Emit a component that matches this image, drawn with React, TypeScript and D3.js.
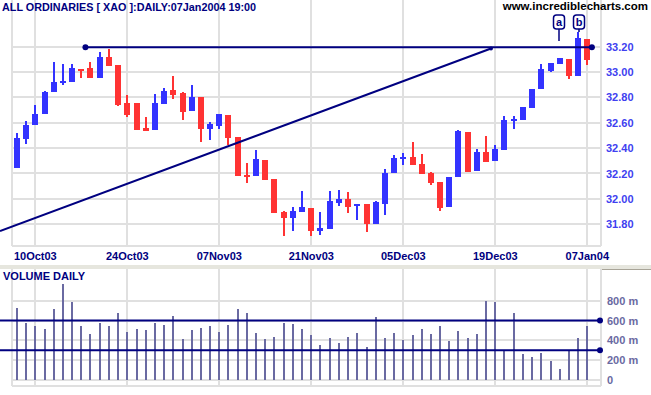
import React from "react";
import * as d3 from "d3";

const W = 651;
const H = 395;

// ---- data ----
const opens = [32.24,32.47,32.58,32.67,32.84,32.915,32.92,33.02,33.03,32.955,33.115,33.055,32.755,32.755,32.556,32.545,32.75,32.855,32.836,32.694,32.802,32.553,32.574,32.661,32.487,32.186,32.183,32.306,32.157,31.894,31.852,31.899,31.928,31.747,31.765,31.97,31.997,31.944,31.96,31.805,31.962,32.206,32.32,32.33,32.275,32.206,32.133,31.939,32.17,32.527,32.222,32.369,32.298,32.387,32.616,32.624,32.718,32.868,33.009,33.06,33.102,32.968,33.259];
const highs = [32.52,32.61,32.74,32.85,33.08,33.06,33.06,33.02,33.08,33.16,33.18,33.055,32.82,32.755,32.645,32.826,32.873,32.968,32.84,32.897,32.802,32.606,32.666,32.661,32.487,32.28,32.385,32.306,32.157,31.905,31.936,32.065,31.928,31.897,32.062,32.07,32.057,31.96,31.96,31.98,32.238,32.343,32.359,32.448,32.354,32.212,32.133,32.17,32.543,32.527,32.395,32.495,32.424,32.653,32.653,32.721,32.865,33.062,33.068,33.107,33.102,33.317,33.259];
const lows = [32.24,32.43,32.58,32.67,32.84,32.9,32.92,32.95,32.95,32.955,33.05,32.735,32.647,32.545,32.532,32.545,32.75,32.789,32.621,32.694,32.45,32.464,32.553,32.422,32.183,32.128,32.183,32.151,31.891,31.708,31.747,31.899,31.708,31.716,31.765,31.947,31.891,31.834,31.739,31.805,31.876,32.206,32.269,32.269,32.194,32.107,31.907,31.939,32.17,32.212,32.222,32.293,32.298,32.387,32.553,32.624,32.718,32.868,33.0,33.06,32.946,32.968,33.057];
const closes = [32.48,32.58,32.67,32.84,32.92,32.925,33.03,33.007,32.955,33.115,33.05,32.74,32.66,32.545,32.537,32.753,32.852,32.82,32.684,32.8,32.55,32.587,32.666,32.482,32.183,32.175,32.312,32.151,31.891,31.852,31.905,31.934,31.747,31.769,31.981,31.997,31.939,31.96,31.8,31.973,32.206,32.324,32.328,32.269,32.194,32.128,31.926,32.17,32.532,32.212,32.367,32.293,32.393,32.621,32.627,32.721,32.865,33.02,33.068,33.107,32.965,33.265,33.094];
const volumes = [727,578,545,515,716,969,787,545,464,575,545,676,484,515,505,575,555,646,414,505,525,545,484,555,716,676,474,414,434,575,565,515,454,353,424,373,434,474,333,636,424,474,404,454,515,464,545,394,494,424,464,797,787,303,676,262,232,272,192,111,303,424,545];

const dateTickIndex = [2, 12, 22, 32, 42, 52, 62];
const dateTickLabels = ["10Oct03", "24Oct03", "07Nov03", "21Nov03", "05Dec03", "19Dec03", "07Jan04"];
const priceTicks = [31.8, 32.0, 32.2, 32.4, 32.6, 32.8, 33.0, 33.2];
const volumeTicks = [0, 200, 400, 600, 800];
const volumeTickLabels = ["0", "200 m", "400 m", "600 m", "800 m"];

// annotations (bar index, price)
const resistance = { x1: 7.45, x2: 62.5, price: 33.195 };
const trendline = { x1: -1.84, p1: 31.747, x2: 51.53, p2: 33.184 };
const volumeLevels = [600, 300];
const markers = [
  { label: "a", index: 58.9, boxTop: 15, lineEnd: 41 },
  { label: "b", index: 61.1, boxTop: 15, lineEnd: 32 },
];

const FONT = "'Liberation Sans', Arial, sans-serif";
const NAVY = "#000080";
const BLUE = "#3333ff";
const RED = "#ff3333";
const GRID = "#e0e0e0";
const VOLC = "#6a6aa2";

export default function App() {
  const x = d3.scaleLinear().domain([0, 62]).range([16.9, 587.3]);
  const y = d3.scaleLinear().domain([31.8, 33.2]).range([224.3, 46.5]);
  const yv = d3.scaleLinear().domain([0, 800]).range([380, 300.7]);

  const pTop = 0, pBottom = 246, left = 12, right = 601;
  const vTop = 269, vBottom = 386;

  const gridX = dateTickIndex.map((i) => Math.round(x(i)));

  return (
    <svg
      width={W}
      height={H}
      style={{ position: "absolute", left: 0, top: 0, background: "#fff" }}
      fontFamily={FONT}
    >
      <rect x={0} y={0} width={W} height={H} fill="#fff" />
      {/* price panel grid */}
      {priceTicks.map((p) => (
        <line key={"pg" + p} x1={left} x2={right} y1={Math.round(y(p))} y2={Math.round(y(p))} stroke={GRID} strokeWidth={2} />
      ))}
      {gridX.map((gx, k) => (
        <line key={"vg" + k} x1={gx} x2={gx} y1={pTop} y2={pBottom} stroke={GRID} strokeWidth={2} />
      ))}
      <line x1={left} x2={left} y1={pTop} y2={pBottom} stroke={GRID} strokeWidth={2} />
      <line x1={right} x2={right} y1={pTop} y2={pBottom} stroke={GRID} strokeWidth={2} />
      <line x1={left} x2={right} y1={pBottom} y2={pBottom} stroke={GRID} strokeWidth={2} />

      {/* candles */}
      {opens.map((o, i) => {
        const c = closes[i];
        const cx = Math.round(x(i));
        const col = c >= o ? BLUE : RED;
        const top = Math.round(y(Math.max(o, c)));
        const bot = Math.round(y(Math.min(o, c)));
        const hy = Math.round(y(highs[i]));
        const ly = Math.round(y(lows[i]));
        return (
          <g key={"c" + i}>
            <rect x={cx - 1} y={hy} width={2} height={Math.max(1, ly - hy)} fill={col} />
            <rect x={cx - 3} y={top} width={6} height={Math.max(2, bot - top)} fill={col} />
          </g>
        );
      })}

      {/* resistance line */}
      <line x1={x(resistance.x1)} x2={x(resistance.x2)} y1={y(resistance.price)} y2={y(resistance.price)} stroke={NAVY} strokeWidth={2} />
      <circle cx={x(resistance.x1)} cy={y(resistance.price)} r={3} fill={NAVY} />
      <circle cx={x(resistance.x2)} cy={y(resistance.price)} r={3} fill={NAVY} />
      {/* trendline */}
      <line x1={x(trendline.x1)} y1={y(trendline.p1)} x2={x(trendline.x2)} y2={y(trendline.p2)} stroke={NAVY} strokeWidth={2} />
      <circle cx={x(trendline.x2)} cy={y(trendline.p2)} r={2} fill={NAVY} />

      {/* markers */}
      {markers.map((m) => {
        const mx = Math.round(x(m.index));
        return (
          <g key={m.label}>
            <line x1={mx} x2={mx} y1={m.boxTop + 14} y2={m.lineEnd} stroke={NAVY} strokeWidth={1.5} />
            <rect x={mx - 5.5} y={m.boxTop} width={11} height={14} rx={3} fill="#fff" stroke={NAVY} strokeWidth={1.5} />
            <text x={mx} y={m.boxTop + 11} textAnchor="middle" fontSize={11} fontWeight="bold" fill={NAVY}>{m.label}</text>
          </g>
        );
      })}

      {/* price labels */}
      {priceTicks.map((p) => (
        <text key={"pl" + p} x={606} y={y(p) + 4} fontSize={11} fontWeight="bold" fill="#4040f0">{p.toFixed(2)}</text>
      ))}
      {/* date labels */}
      {dateTickIndex.map((i, k) => (
        <text key={"dl" + k} x={x(i)} y={260} textAnchor="middle" fontSize={11} fontWeight="bold" fill={NAVY}>{dateTickLabels[k]}</text>
      ))}

      {/* titles */}
      <rect x={0} y={0} width={258} height={13} fill="none" />
      <text x={2} y={11} fontSize={11} fontWeight="bold" fill={NAVY} textLength={254} lengthAdjust="spacingAndGlyphs">ALL ORDINARIES [ XAO ]:DAILY:07Jan2004 19:00</text>
      <text x={648} y={10} textAnchor="end" fontSize={11.5} fontWeight="bold" fill="#000">www.incrediblecharts.com</text>

      {/* separator */}
      <rect x={0} y={265} width={W} height={4} fill="#e6e6de" />
      <line x1={right} x2={W} y1={269.5} y2={269.5} stroke="#a8a498" strokeWidth={1} />

      {/* volume panel grid */}
      {volumeTicks.map((v) => (
        <line key={"vgh" + v} x1={left} x2={right} y1={Math.round(yv(v))} y2={Math.round(yv(v))} stroke={GRID} strokeWidth={2} />
      ))}
      {gridX.map((gx, k) => (
        <line key={"vgv" + k} x1={gx} x2={gx} y1={vTop} y2={vBottom} stroke={GRID} strokeWidth={2} />
      ))}
      <line x1={left} x2={left} y1={vTop} y2={vBottom} stroke={GRID} strokeWidth={2} />
      <line x1={right} x2={right} y1={vTop} y2={vBottom} stroke={GRID} strokeWidth={2} />
      <line x1={left} x2={right} y1={vBottom} y2={vBottom} stroke={GRID} strokeWidth={2} />

      {volumes.map((v, i) => {
        const cx = Math.round(x(i));
        const t = Math.round(yv(v));
        return <rect key={"v" + i} x={cx - 1} y={t} width={2} height={Math.round(yv(0)) - t} fill={VOLC} />;
      })}

      {volumeLevels.map((lv) => (
        <g key={"lv" + lv}>
          <line x1={0} x2={600} y1={yv(lv)} y2={yv(lv)} stroke={NAVY} strokeWidth={2} />
          <circle cx={600} cy={yv(lv)} r={3} fill={NAVY} />
        </g>
      ))}

      {volumeTicks.map((v, k) => (
        <text key={"vl" + v} x={607} y={yv(v) + 4} fontSize={11} fontWeight="bold" fill={VOLC}>{volumeTickLabels[k]}</text>
      ))}
      <text x={3} y={280} fontSize={11} fontWeight="bold" fill={NAVY}>VOLUME DAILY</text>
    </svg>
  );
}
